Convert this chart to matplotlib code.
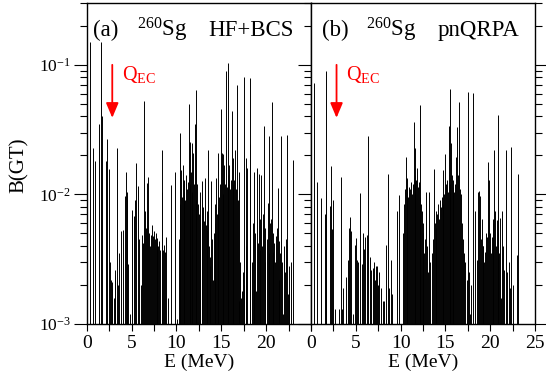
import matplotlib
matplotlib.use("Agg")
import matplotlib.pyplot as plt
from matplotlib.ticker import FixedLocator, LogLocator, NullFormatter

plt.rcParams['font.family'] = ['Liberation Serif', 'DejaVu Serif']
plt.rcParams['mathtext.fontset'] = 'custom'
plt.rcParams['mathtext.rm'] = 'Liberation Serif'
plt.rcParams['mathtext.it'] = 'Liberation Serif:italic'

# ---- data: panel (a) HF+BCS ----
a_E = [0.05, 0.37, 0.74, 0.98, 1.39, 1.60, 1.65, 2.10, 2.25, 2.50, 2.62, 2.70, 2.78, 2.85,
       3.00, 3.10, 3.20, 3.33, 3.45, 3.60, 3.86, 4.07, 4.26, 4.36, 4.44, 4.50, 4.63, 4.80,
       5.00, 5.10, 5.26, 5.40, 5.50, 5.74, 5.85, 6.00, 6.15, 6.30, 6.37, 6.55, 6.65, 6.74,
       6.85, 6.96, 7.10, 7.20, 7.30, 7.40, 7.50, 7.59, 7.70, 7.78, 7.88, 7.96, 8.05, 8.15,
       8.40, 8.44, 8.52, 8.62, 8.70, 8.89, 9.07, 9.44, 9.81, 10.07,
       10.30, 10.38, 10.44, 10.55, 10.64, 10.74, 10.82, 10.90, 11.00, 11.08, 11.18, 11.28,
       11.37, 11.46, 11.55, 11.64, 11.72, 11.77, 11.85, 11.94, 12.03, 12.14, 12.23, 12.32,
       12.42, 12.52, 12.59, 12.68, 12.80, 12.90, 13.00, 13.10, 13.20, 13.28, 13.37, 13.45,
       13.55, 13.62, 13.70, 13.78, 13.90, 13.98, 14.07, 14.16, 14.26, 14.33, 14.40, 14.50,
       14.60, 14.66, 14.72, 14.82, 14.92, 15.05, 15.15, 15.22, 15.30, 15.40, 15.50, 15.60,
       15.70, 15.77, 15.90, 15.98, 16.07, 16.18, 16.27, 16.35, 16.45, 16.55, 16.65, 16.77,
       16.86, 16.95, 17.03, 17.12, 17.20, 17.30, 17.40, 17.48, 17.58, 17.70, 17.80, 17.90,
       18.15, 18.20, 18.40, 18.52, 18.65, 18.70, 18.80, 18.90, 18.96, 19.07, 19.20, 19.26,
       19.35, 19.45, 19.52, 19.60, 19.74, 19.82, 19.90, 20.05, 20.20, 20.30, 20.37, 20.46,
       20.55, 20.63, 20.74, 20.82, 20.90, 21.00, 21.10, 21.20, 21.30, 21.38, 21.48, 21.58,
       21.66, 21.75, 21.85, 21.95, 22.10, 22.20, 22.30, 22.40, 22.50, 22.60, 22.75, 22.96]
a_B = [0.032, 0.15, 0.023, 0.018, 0.035, 0.15, 0.040, 0.018, 0.027, 0.0156, 0.0030, 0.0022, 0.0019, 0.0021,
       0.0016, 0.0026, 0.0024, 0.023, 0.0020, 0.0035, 0.0052, 0.0053, 0.0097, 0.0148, 0.0098, 0.0105, 0.0029, 0.0012,
       0.0069, 0.0076, 0.0068, 0.0090, 0.0176, 0.0116, 0.0045, 0.0020, 0.0049, 0.0042, 0.053, 0.0074, 0.0055, 0.0122,
       0.0136, 0.0050, 0.0040, 0.0049, 0.0058, 0.0048, 0.0052, 0.0045, 0.0050, 0.0046, 0.0042, 0.0040, 0.0044, 0.0037,
       0.0105, 0.022, 0.0037, 0.0041, 0.0036, 0.0047, 0.0016, 0.0118, 0.0148, 0.0011,
       0.0045, 0.0085, 0.030, 0.0155, 0.0095, 0.0169, 0.0105, 0.013, 0.0090, 0.0140, 0.0110, 0.0125,
       0.050, 0.0120, 0.0255, 0.0150, 0.0105, 0.025, 0.021, 0.0120, 0.035, 0.064, 0.0090, 0.0120,
       0.0085, 0.0070, 0.0105, 0.0060, 0.0095, 0.0126, 0.0080, 0.0062, 0.0134, 0.0058, 0.0053, 0.0075,
       0.022, 0.0040, 0.0028, 0.0033, 0.0126, 0.0045, 0.0022, 0.0050, 0.0060, 0.0085, 0.0133, 0.0070,
       0.0080, 0.021, 0.0095, 0.0120, 0.0455, 0.021, 0.0205, 0.0100, 0.017, 0.0120, 0.090, 0.0115,
       0.0140, 0.103, 0.017, 0.0110, 0.0130, 0.044, 0.0120, 0.019, 0.0130, 0.022, 0.0110, 0.070,
       0.0090, 0.0148, 0.0015, 0.0030, 0.0016, 0.0018, 0.0025, 0.080, 0.0020, 0.019, 0.0040, 0.016,
       0.079, 0.0246, 0.0030, 0.0060, 0.015, 0.0022, 0.0050, 0.0018, 0.016, 0.0042, 0.0145, 0.0037,
       0.0065, 0.014, 0.0040, 0.0070, 0.0338, 0.0055, 0.0030, 0.0045, 0.0086, 0.0035, 0.028, 0.0060,
       0.0065, 0.052, 0.0036, 0.0050, 0.0042, 0.0030, 0.0048, 0.0055, 0.0112, 0.0044, 0.0022, 0.0035,
       0.0284, 0.0030, 0.0012, 0.0040, 0.0025, 0.0045, 0.0287, 0.0017, 0.0028, 0.0018, 0.0030, 0.0185]

# ---- data: panel (b) pnQRPA ----
b_E = [0.33, 0.71, 1.08, 1.56, 1.67, 1.72, 2.12, 2.23, 2.30, 2.49, 2.68, 3.16, 3.31, 3.42,
       3.60, 3.87, 4.10, 4.24, 4.35, 4.47, 4.70, 4.90, 5.00, 5.17, 5.28, 5.47, 5.66, 5.77,
       5.91, 6.03, 6.21, 6.40, 6.58, 6.70, 6.88, 7.03, 7.15, 7.26, 7.40, 7.50, 7.59, 7.78,
       8.00, 8.15, 8.37, 8.56, 8.70, 8.90, 9.08, 9.56, 9.82,
       10.30, 10.40, 10.50, 10.57, 10.66, 10.76, 10.86, 10.95, 11.05, 11.15, 11.25, 11.35,
       11.47, 11.56, 11.65, 11.74, 11.83, 11.92, 12.02, 12.11, 12.20, 12.28, 12.36, 12.45,
       12.54, 12.62, 12.72, 12.84, 12.95, 13.05, 13.20, 13.30, 13.47, 13.58, 13.70, 13.80,
       13.90, 14.00, 14.10, 14.20, 14.30, 14.40, 14.50, 14.60, 14.70, 14.77, 14.87, 14.96,
       15.06, 15.16, 15.26, 15.40, 15.48, 15.55, 15.60, 15.70, 15.80, 15.90, 16.00, 16.08,
       16.16, 16.30, 16.40, 16.50, 16.60, 16.70, 16.80, 16.95, 17.10, 17.20, 17.37, 17.49,
       17.60, 17.75, 17.90, 18.08, 18.30, 18.50, 18.68, 18.80, 18.86, 18.95, 19.04, 19.15,
       19.23, 19.32, 19.40, 19.50, 19.60, 19.80, 19.88, 19.98, 20.08, 20.17, 20.26, 20.35,
       20.43, 20.54, 20.62, 20.72, 20.84, 20.90, 21.00, 21.09, 21.20, 21.35, 21.45, 21.54,
       21.73, 21.90, 22.05, 22.20, 22.36, 22.50, 22.95, 23.07]
b_B = [0.073, 0.0125, 0.0093, 0.0071, 0.089, 0.0107, 0.0081, 0.0167, 0.0054, 0.0091, 0.0013, 0.0013, 0.0136, 0.0013,
       0.0019, 0.0023, 0.0031, 0.0055, 0.0067, 0.0052, 0.0012, 0.0041, 0.0046, 0.0031, 0.0030, 0.0103, 0.0029, 0.0050,
       0.0038, 0.0047, 0.0049, 0.028, 0.0033, 0.0026, 0.0027, 0.0030, 0.0022, 0.0028, 0.0028, 0.0020, 0.0025, 0.0019,
       0.0015, 0.0015, 0.0041, 0.0145, 0.0019, 0.0031, 0.0017, 0.0075, 0.0099,
       0.0050, 0.0085, 0.0110, 0.0196, 0.0110, 0.0135, 0.0095, 0.0115, 0.0110, 0.0125, 0.0100, 0.0120,
       0.0365, 0.0140, 0.0229, 0.0130, 0.0160, 0.0115, 0.0125, 0.0095, 0.049, 0.0085, 0.0075, 0.0060,
       0.0050, 0.0035, 0.0045, 0.0105, 0.0040, 0.0025, 0.0105, 0.0030, 0.0035, 0.0045, 0.0156, 0.0060,
       0.0075, 0.0055, 0.0070, 0.0085, 0.0065, 0.0090, 0.0080, 0.0095, 0.0085, 0.0155, 0.0100, 0.0204,
       0.0120, 0.0130, 0.0105, 0.0336, 0.0120, 0.065, 0.025, 0.0140, 0.0115, 0.0130, 0.0105, 0.0120,
       0.0196, 0.0334, 0.0140, 0.052, 0.0110, 0.0100, 0.0060, 0.0045, 0.0035, 0.0030, 0.0022, 0.0616,
       0.0025, 0.0012, 0.0020, 0.0607, 0.0075, 0.0031, 0.0105, 0.0107, 0.0098, 0.0045, 0.0065, 0.0040,
       0.0040, 0.0030, 0.0036, 0.0050, 0.0047, 0.0178, 0.0130, 0.0050, 0.0035, 0.0047, 0.0060, 0.0065,
       0.022, 0.0075, 0.0040, 0.0064, 0.041, 0.0050, 0.0035, 0.0066, 0.0016, 0.0075, 0.0040, 0.0026,
       0.0222, 0.0025, 0.0030, 0.0019, 0.0232, 0.0020, 0.0034, 0.0145]

Q_EC = 2.85
panels = [("(a)", "HF+BCS", a_E, a_B), ("(b)", "pnQRPA", b_E, b_B)]

fig = plt.figure(figsize=(5.46, 3.83), dpi=100)
W, H = 546.0, 383.0
x0, xm, x1 = 86.7, 311.0, 535.0
ytop, ybot = 3.0, 324.0
rects = [[x0 / W, 1 - ybot / H, (xm - x0) / W, (ybot - ytop) / H],
         [xm / W, 1 - ybot / H, (x1 - xm) / W, (ybot - ytop) / H]]

for i, (tag, model, E, B) in enumerate(panels):
    ax = fig.add_axes(rects[i])
    ax.set_yscale('log')
    ax.set_xlim(0, 25)
    ax.set_ylim(1e-3, 0.3)
    ax.vlines(E, 1e-3, B, colors='black', linewidth=0.7)
    for s in ax.spines.values():
        s.set_linewidth(1.0)
    ax.xaxis.set_major_locator(FixedLocator([0, 5, 10, 15, 20, 25]))
    ax.xaxis.set_minor_locator(FixedLocator([2.5, 7.5, 12.5, 17.5, 22.5]))
    if i == 0:
        ax.set_xticklabels(['0', '5', '10', '15', '20', ''])
    else:
        ax.set_xticklabels(['0', '5', '10', '15', '20', '25'])
    ax.tick_params(axis='x', which='both', direction='out', length=5, width=0.8,
                   labelsize=14, pad=3, top=False)
    ax.yaxis.set_major_locator(FixedLocator([1e-3, 1e-2, 1e-1]))
    ax.yaxis.set_minor_locator(LogLocator(base=10, subs=[2, 3, 4, 5, 6, 7, 8, 9]))
    ax.yaxis.set_minor_formatter(NullFormatter())
    ax.tick_params(axis='y', which='major', direction='out', length=9.5, width=0.8)
    ax.tick_params(axis='y', which='minor', direction='out', length=4.7, width=0.8)
    if i == 0:
        ax.set_yticklabels([r'$\mathregular{10^{-3}}$', r'$\mathregular{10^{-2}}$',
                            r'$\mathregular{10^{-1}}$'])
        ax.tick_params(axis='y', which='both', labelsize=12.5, left=True, right=False, pad=2)
    else:
        ax.tick_params(axis='y', which='both', left=True, right=True,
                       labelleft=False, labelright=False)
    ax.set_xlabel('E (MeV)', fontsize=14, labelpad=1)

    # titles
    tx = [(0.028, 0.541), (0.049, 0.567)][i]
    sx = [0.224, 0.246][i]
    ax.text(tx[0], 0.897, tag, transform=ax.transAxes, fontsize=16.5, ha='left', va='baseline')
    ax.text(sx, 0.897, r'$\mathregular{^{260}}$Sg', transform=ax.transAxes, fontsize=16.5,
            ha='left', va='baseline')
    ax.text(tx[1], 0.897, model, transform=ax.transAxes, fontsize=16.5, ha='left', va='baseline')

    # Q_EC arrow
    ax.annotate('', xy=(Q_EC, 0.039), xytext=(Q_EC, 0.1),
                arrowprops=dict(arrowstyle='-|>,head_length=0.9,head_width=0.38',
                                color='red', lw=1.3, shrinkA=0, shrinkB=0))
    ax.text(3.92, 0.0766, r'Q$_{\mathregular{EC}}$', color='red', fontsize=14.5,
            ha='left', va='baseline')

fig.text(19 / W, 1 - 165 / H, 'B(GT)', rotation=90, fontsize=15, ha='center', va='center')

fig.savefig('out.png', dpi=100)
